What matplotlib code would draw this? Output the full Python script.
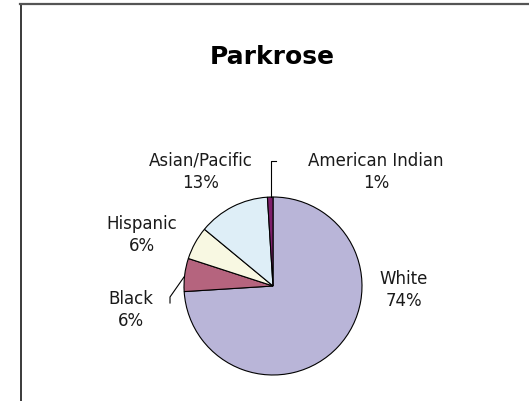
import matplotlib
matplotlib.use("Agg")
import matplotlib.pyplot as plt
from matplotlib.lines import Line2D

# Parkrose population by race/ethnicity (percent)
groups = ["White", "Black", "Hispanic", "Asian/Pacific", "American Indian"]
shares = [74, 6, 6, 13, 1]
colors = ["#B9B5D8", "#B5647E", "#F8F8E2", "#DEEEF7", "#7E1F6B"]

# label centres in pixel space (x, y from top)
label_pos = [(404, 290), (131, 310), (142, 235), (201, 172), (376, 172)]

W, H = 529, 401
fig = plt.figure(figsize=(W / 100, H / 100), dpi=100)
ax = fig.add_axes([0, 0, 1, 1])
ax.set_xlim(0, W)
ax.set_ylim(0, H)
ax.set_aspect("equal")
ax.axis("off")

cx, cy, r = 273, H - 286, 89
wedges, _ = ax.pie(shares, colors=colors, startangle=90, counterclock=False,
                   center=(cx, cy), radius=r,
                   wedgeprops=dict(edgecolor="black", linewidth=0.8))
ax.set_xlim(0, W)
ax.set_ylim(0, H)

for name, val, (x, y) in zip(groups, shares, label_pos):
    ax.text(x, H - y, f"{name}\n{val}%", ha="center", va="center",
            fontsize=12, color="#1a1a1a", linespacing=1.3)

# leader lines for the two small slices
ax.plot([271, 271, 276], [H - 197, H - 161, H - 161], color="black", lw=0.8)
ax.plot([184, 170, 170], [H - 277, H - 297, H - 303], color="black", lw=0.8)

ax.text(272, H - 57, "Parkrose", ha="center", va="center",
        fontsize=18, fontweight="bold", color="black")

# chart area frame (only top and left edges visible)
fig.add_artist(Line2D([20.5 / W, 20.5 / W], [0, 1 - 3.5 / H],
                      transform=fig.transFigure, color="#3a3a3a", lw=1.4))
fig.add_artist(Line2D([20 / W, 1], [1 - 3.5 / H, 1 - 3.5 / H],
                      transform=fig.transFigure, color="#555555", lw=1.6))

fig.savefig("out.png", dpi=100)
